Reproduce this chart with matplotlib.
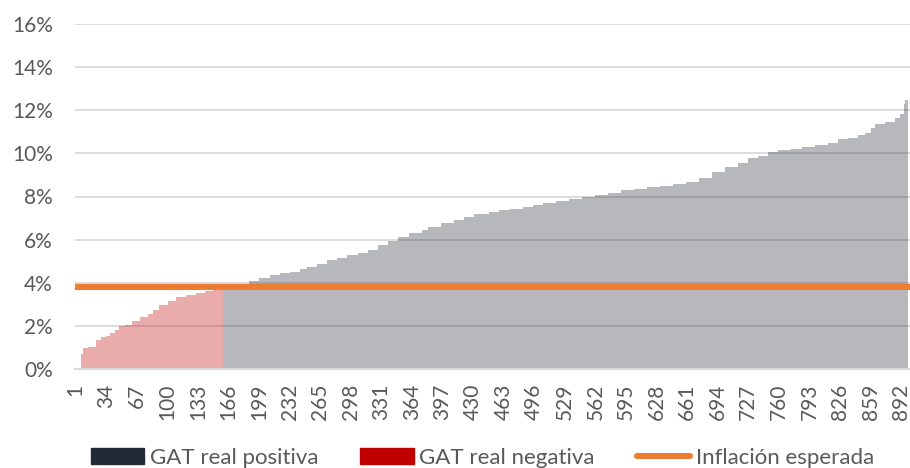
import numpy as np
import matplotlib
matplotlib.use("Agg")
import matplotlib.pyplot as plt
from matplotlib.patches import Patch
from matplotlib.lines import Line2D

# GAT real (%): (level, number of bars)
niveles = [0.0, 0.3, 0.7, 0.96, 1.0, 1.32, 1.45, 1.52, 1.66, 1.79, 1.99, 2.02,
           2.22, 2.41, 2.53, 2.72, 2.98, 3.15, 3.31, 3.42, 3.53, 3.6, 3.65, 3.68,
           3.8, 3.93, 4.07, 4.2, 4.35, 4.43, 4.5, 4.62, 4.71, 4.85, 5.05, 5.16,
           5.28, 5.39, 5.52, 5.75, 5.95, 6.14, 6.32, 6.45, 6.6, 6.79, 6.92, 7.07,
           7.2, 7.28, 7.35, 7.43, 7.5, 7.62, 7.72, 7.8, 7.89, 7.97, 8.08, 8.18,
           8.28, 8.34, 8.43, 8.49, 8.58, 8.69, 8.85, 9.15, 9.38, 9.57, 9.77, 9.88,
           10.06, 10.15, 10.2, 10.31, 10.38, 10.49, 10.65, 10.74, 10.85, 10.97,
           11.2, 11.38, 11.46, 11.66, 11.85, 12.3, 12.46]
cuentas = [6, 1, 2, 5, 9, 5, 5, 5, 5, 4, 7, 7,
           9, 9, 5, 7, 9, 9, 11, 11, 9, 9, 9, 2,
           17, 11, 11, 11, 11, 11, 11, 7, 11, 11, 11, 11,
           11, 11, 11, 11, 11, 11, 14, 7, 14, 14, 11, 11,
           16, 11, 11, 14, 11, 11, 14, 14, 14, 14, 14, 14,
           14, 14, 14, 14, 14, 14, 14, 14, 14, 11, 11, 11,
           11, 14, 11, 14, 14, 11, 11, 11, 7, 7,
           4, 11, 11, 5, 4, 2, 3]
inflacion = 3.78
ticks_x = list(range(1, 893, 33))

gat = np.repeat(niveles, cuentas)
x = np.arange(1, len(gat) + 1)

plt.rcParams['font.family'] = ['Lato', 'DejaVu Sans']

fig = plt.figure(figsize=(9.1, 4.68), dpi=100)
ax = fig.add_axes([75 / 910, 99.3 / 468, 835 / 910, 344.4 / 468])

navy = '#222A35'
rojo = '#C00000'
colores = [rojo if v < inflacion else navy for v in gat]
ax.bar(x, gat, width=1.0, color=colores, alpha=0.33, linewidth=0, zorder=2)
ax.axhline(inflacion, color='#ED7D31', linewidth=4.4, zorder=3)

ax.set_xlim(0.5, len(gat) + 2.5)
ax.set_ylim(0, 16)
ax.set_yticks(range(0, 17, 2))
ax.set_yticklabels([f'{v}%' for v in range(0, 17, 2)])
ax.set_xticks(ticks_x)
ax.set_xticklabels([str(t) for t in ticks_x], rotation=90)
ax.grid(axis='y', color='#D9D9D9', linewidth=1.3, zorder=1)
ax.set_axisbelow(True)
for s in ['top', 'right', 'left']:
    ax.spines[s].set_visible(False)
ax.spines['bottom'].set_color('#D9D9D9')
ax.spines['bottom'].set_linewidth(1.5)
ax.tick_params(axis='y', length=0, pad=16, labelsize=15, labelcolor='#595959')
ax.tick_params(axis='x', length=0, pad=11, labelsize=15, labelcolor='#595959')

handles = [Patch(color=navy), Patch(color=rojo),
           Line2D([0], [0], color='#ED7D31', linewidth=4.4, solid_capstyle='round')]
fig.legend(handles, ['GAT real positiva', 'GAT real negativa', 'Inflación esperada'],
           loc='center', bbox_to_anchor=(0.53, 0.022), ncol=3, frameon=False,
           fontsize=16, labelcolor='#595959', handlelength=2.4, handleheight=0.75,
           handletextpad=0.25, columnspacing=1.9, borderpad=0.1)

fig.savefig('out.png', dpi=100)
